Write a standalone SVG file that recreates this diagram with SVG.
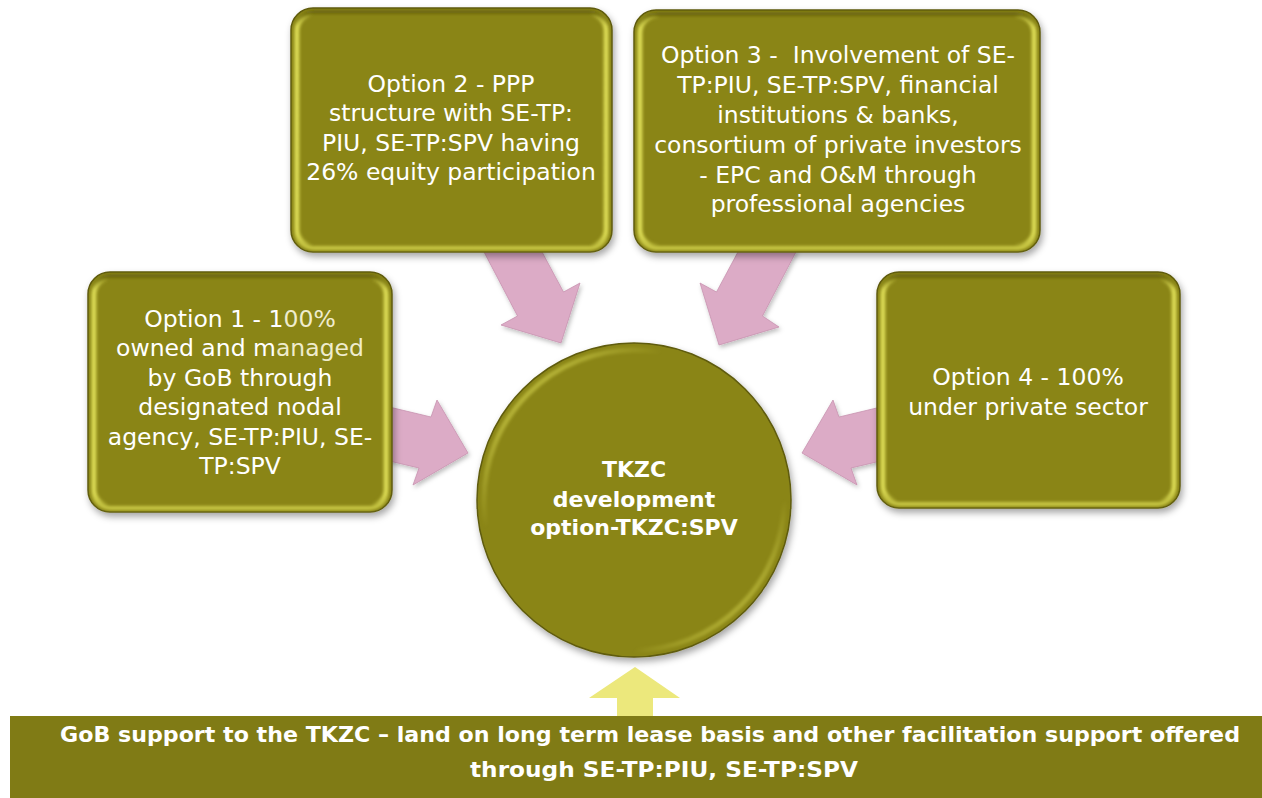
<svg xmlns="http://www.w3.org/2000/svg" width="1262" height="798" viewBox="0 0 1262 798">
  <defs>
    <style>
      .box { fill: #8a8519; stroke: #5f5b0c; stroke-width: 1.5; }
      .rimH { fill: none; stroke: url(#gRimH); stroke-width: 5; }
      .rimV { fill: none; stroke: url(#gRimV); stroke-width: 4; }
      .lbl { font-family: "DejaVu Sans", "Liberation Sans", sans-serif; font-size: 23.5px; fill: #ffffff; text-anchor: middle; }
      .hub { font-family: "DejaVu Sans", "Liberation Sans", sans-serif; font-size: 22px; font-weight: bold; fill: #ffffff; text-anchor: middle; }
      .band { font-family: "DejaVu Sans", "Liberation Sans", sans-serif; font-size: 22px; font-weight: bold; fill: #ffffff; }
      .pink { fill: #dcabc6; stroke: #c893b0; stroke-width: 0.8; }
    </style>
    <linearGradient id="gRimH" x1="0" y1="0" x2="1" y2="0">
      <stop offset="0" stop-color="#e6e65c" stop-opacity="0.9"/>
      <stop offset="0.05" stop-color="#e6e65c" stop-opacity="0"/>
      <stop offset="0.95" stop-color="#e6e65c" stop-opacity="0"/>
      <stop offset="1" stop-color="#e6e65c" stop-opacity="0.9"/>
    </linearGradient>
    <linearGradient id="gRimV" x1="0" y1="0" x2="0" y2="1">
      <stop offset="0" stop-color="#5e5a0a" stop-opacity="0.7"/>
      <stop offset="0.06" stop-color="#5e5a0a" stop-opacity="0"/>
      <stop offset="0.93" stop-color="#d6d64e" stop-opacity="0"/>
      <stop offset="1" stop-color="#d6d64e" stop-opacity="0.85"/>
    </linearGradient>
    <linearGradient id="gRimC" x1="0" y1="0" x2="1" y2="1">
      <stop offset="0" stop-color="#e6e65c" stop-opacity="0.9"/>
      <stop offset="0.3" stop-color="#e6e65c" stop-opacity="0"/>
      <stop offset="0.75" stop-color="#e6e65c" stop-opacity="0"/>
      <stop offset="1" stop-color="#e6e65c" stop-opacity="0.9"/>
    </linearGradient>
    <filter id="shadow" x="-10%" y="-10%" width="125%" height="130%">
      <feDropShadow dx="2" dy="4" stdDeviation="3.5" flood-color="#000" flood-opacity="0.35"/>
    </filter>
    <filter id="soft" x="-5%" y="-5%" width="110%" height="110%">
      <feGaussianBlur stdDeviation="1.4"/>
    </filter>
    <filter id="arrowShadow" x="-20%" y="-20%" width="140%" height="140%">
      <feDropShadow dx="1.5" dy="2.5" stdDeviation="2" flood-color="#000" flood-opacity="0.25"/>
    </filter>
  </defs>

  <rect x="0" y="0" width="1262" height="798" fill="#ffffff"/>

  <!-- connectors: block arrows pointing into the hub -->
  <g id="connectors">
    <polygon class="pink" filter="url(#arrowShadow)" points="483,250 541,250 563.5,292 580,283 561,343 501,325 517.5,316"/>
    <polygon class="pink" filter="url(#arrowShadow)" points="797,250 739,250 716.5,292 700,283 719,345 779,327 762.5,316"/>
    <polygon class="pink" filter="url(#arrowShadow)" points="385,406 431,417 437,400 468,453 413,485 419,468 385,460"/>
    <polygon class="pink" filter="url(#arrowShadow)" points="885,406 839,417 833,400 802,453 857,485 851,468 885,460"/>
    <polygon fill="#ece87c" points="635,667 680,698 653,698 653,717 617,717 617,698 589,698"/>
  </g>

  <!-- Option 1 -->
  <g id="option1">
    <rect class="box" filter="url(#shadow)" x="88" y="272" width="304" height="240" rx="22"/>
    <rect class="rimH" filter="url(#soft)" x="94" y="278" width="292" height="228" rx="17"/>
    <rect class="rimV" filter="url(#soft)" x="92" y="276" width="296" height="232" rx="19"/>
    <text class="lbl" x="240" y="327">Option 1 - 1<tspan fill="#efeccd">00%</tspan></text>
    <text class="lbl" x="240" y="356">owned and m<tspan fill="#efeccd">anaged</tspan></text>
    <text class="lbl" x="240" y="386">by GoB through</text>
    <text class="lbl" x="240" y="415">designated nodal</text>
    <text class="lbl" x="240" y="445">agency, SE-TP:PIU, SE-</text>
    <text class="lbl" x="240" y="474">TP:SPV</text>
  </g>

  <!-- Option 2 -->
  <g id="option2">
    <rect class="box" filter="url(#shadow)" x="291" y="8" width="321" height="244" rx="22"/>
    <rect class="rimH" filter="url(#soft)" x="297" y="14" width="309" height="232" rx="17"/>
    <rect class="rimV" filter="url(#soft)" x="295" y="12" width="313" height="236" rx="19"/>
    <text class="lbl" x="451" y="92">Option 2 - PPP</text>
    <text class="lbl" x="451" y="121">structure with SE-TP:</text>
    <text class="lbl" x="451" y="151">PIU, SE-TP:SPV having</text>
    <text class="lbl" x="451" y="180">26% equity participation</text>
  </g>

  <!-- Option 3 -->
  <g id="option3">
    <rect class="box" filter="url(#shadow)" x="634" y="10" width="406" height="242" rx="22"/>
    <rect class="rimH" filter="url(#soft)" x="640" y="16" width="394" height="230" rx="17"/>
    <rect class="rimV" filter="url(#soft)" x="638" y="14" width="398" height="234" rx="19"/>
    <text class="lbl" x="838" y="63" xml:space="preserve">Option 3 -  Involvement of SE-</text>
    <text class="lbl" x="838" y="93">TP:PIU, SE-TP:SPV, financial</text>
    <text class="lbl" x="838" y="123">institutions &amp; banks,</text>
    <text class="lbl" x="838" y="153">consortium of private investors</text>
    <text class="lbl" x="838" y="183">- EPC and O&amp;M through</text>
    <text class="lbl" x="838" y="212">professional agencies</text>
  </g>

  <!-- Option 4 -->
  <g id="option4">
    <rect class="box" filter="url(#shadow)" x="877" y="272" width="303" height="236" rx="22"/>
    <rect class="rimH" filter="url(#soft)" x="883" y="278" width="291" height="224" rx="17"/>
    <rect class="rimV" filter="url(#soft)" x="881" y="276" width="295" height="228" rx="19"/>
    <text class="lbl" x="1028" y="385">Option 4 - 100%</text>
    <text class="lbl" x="1028" y="415">under private sector</text>
  </g>

  <!-- Hub -->
  <g id="hub">
    <circle class="box" filter="url(#shadow)" cx="634" cy="500" r="157"/>
    <circle fill="none" stroke="url(#gRimC)" stroke-width="5" filter="url(#soft)" cx="634" cy="500" r="150"/>
    <text class="hub" x="634" y="477">TKZC</text>
    <text class="hub" x="634" y="507">development</text>
    <text class="hub" x="634" y="535">option-TKZC:SPV</text>
  </g>

  <!-- Government support band -->
  <g id="support">
    <rect x="10" y="716" width="1252" height="82" fill="#807b15"/>
    <text class="band" x="60" y="742" textLength="1180" lengthAdjust="spacingAndGlyphs">GoB support to the TKZC – land on long term lease basis and other facilitation support offered</text>
    <text class="band" x="470" y="777" textLength="388" lengthAdjust="spacingAndGlyphs">through SE-TP:PIU, SE-TP:SPV</text>
  </g>
</svg>
